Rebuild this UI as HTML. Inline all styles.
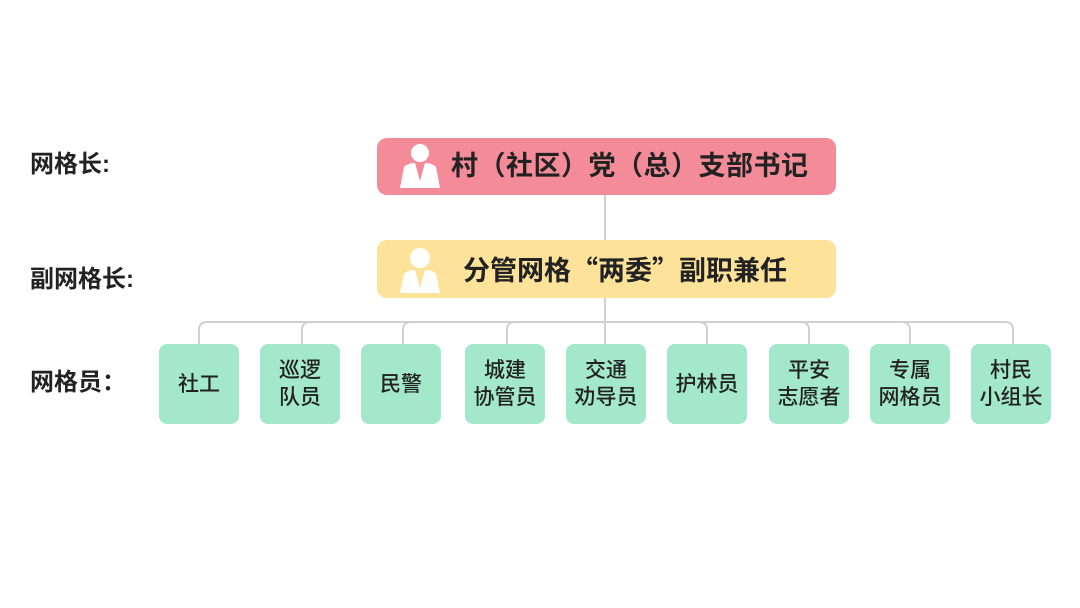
<!DOCTYPE html>
<html><head><meta charset="utf-8"><style>
body{margin:0;width:1080px;height:608px;background:#fff;position:relative;overflow:hidden;font-family:"Liberation Sans","Noto Sans CJK SC",sans-serif;color:#222}
.lab{position:absolute;left:30px;font-size:24px;font-weight:bold;line-height:30px}
.box{position:absolute;border-radius:10px}
.g{position:absolute;top:344px;width:80px;height:80px;background:#a3e8cb;border-radius:8px;display:flex;align-items:center;justify-content:center;text-align:center;font-size:21px;line-height:27px;font-weight:500}
.t{position:absolute;font-size:27px;font-weight:bold;line-height:30px;white-space:nowrap}
.q{font-family:"Noto Sans CJK SC",sans-serif}
.ln{position:absolute;background:#d0d0d0}
</style></head><body>
<div class="lab" style="top:150px">网格长:</div>
<div class="lab" style="top:265px">副网格长:</div>
<div class="lab" style="top:368px">网格员：</div>

<div class="ln" style="left:604px;top:195px;width:2px;height:149px"></div>
<svg style="position:absolute;left:0;top:0" width="1080" height="608"><g fill="none" stroke="#d0d0d0" stroke-width="2">
<path d="M199 344V330q0-8 8-8H1005q8 0 8 8V344"/>
<path d="M302 344V330q0-8 8-8"/><path d="M403 344V330q0-8 8-8"/><path d="M507 344V330q0-8 8-8"/>
<path d="M707 344V330q0-8-8-8"/><path d="M809 344V330q0-8-8-8"/><path d="M910 344V330q0-8-8-8"/>
</g></svg>

<div class="box" style="left:377px;top:138px;width:459px;height:57px;background:#f48b98"></div>
<svg style="position:absolute;left:398px;top:143px" width="44" height="46"><circle cx="22" cy="10" r="9" fill="#fff"/><path d="M2 45L6 24Q10 20 17 20L22 38L27 20Q34 20 38 24L42 45Z" fill="#fff"/></svg>
<div class="t" style="left:451px;top:151px;letter-spacing:0.5px">村（社区）党（总）支部书记</div>

<div class="box" style="left:377px;top:240px;width:459px;height:58px;background:#fde39a"></div>
<svg style="position:absolute;left:398px;top:244px" width="44" height="50"><circle cx="22" cy="14" r="10" fill="#fff"/><path d="M2 49L6 30Q10 26 17 26L22 44L27 26Q34 26 38 30L42 49Z" fill="#fff"/></svg>
<div class="t" style="left:463px;top:254px">分管网格<span class="q">“</span>两委<span class="q">”</span>副职兼任</div>

<div class="g" style="left:159px">社工</div>
<div class="g" style="left:260px">巡逻<br>队员</div>
<div class="g" style="left:361px">民警</div>
<div class="g" style="left:465px">城建<br>协管员</div>
<div class="g" style="left:566px">交通<br>劝导员</div>
<div class="g" style="left:667px">护林员</div>
<div class="g" style="left:769px">平安<br>志愿者</div>
<div class="g" style="left:870px">专属<br>网格员</div>
<div class="g" style="left:971px">村民<br>小组长</div>
</body></html>
